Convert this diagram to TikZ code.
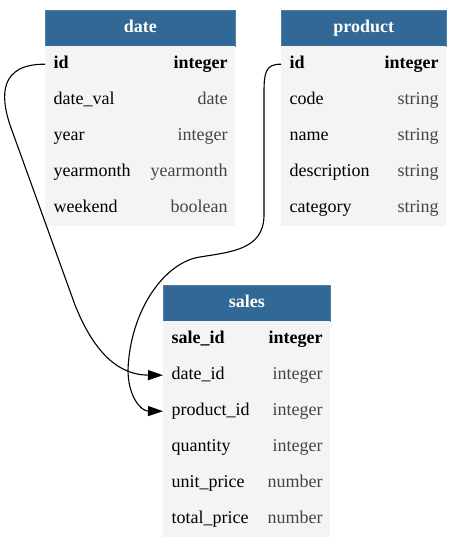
\documentclass[tikz,border=0pt]{standalone}
\usepackage{fontspec}
\newfontfamily\tmsfont{LiberationSerif}[Extension=.ttf, UprightFont=*-Regular, BoldFont=*-Bold]
\usetikzlibrary{arrows.meta}
\definecolor{hdrblue}{HTML}{316895}
\definecolor{rowgray}{HTML}{F4F4F4}
\definecolor{typegray}{HTML}{444444}
\tikzset{
  hdrbox/.style={fill=hdrblue, draw=hdrblue!85!white, line width=0.6pt, text=white, minimum height=36pt, inner sep=0pt, anchor=north west, text height=12pt, text depth=4pt, font=\tmsfont\fontsize{18}{20}\selectfont\bfseries},
  rowbox/.style={fill=rowgray, minimum height=36pt, inner sep=0pt, anchor=north west},
  fname/.style={inner sep=0pt, anchor=west, text height=12pt, text depth=4pt, font=\tmsfont\fontsize{18}{20}\selectfont},
  ftype/.style={inner sep=0pt, anchor=east, text height=12pt, text depth=4pt, font=\tmsfont\fontsize{18}{20}\selectfont, text=typegray},
  keyname/.style={fname, font=\tmsfont\fontsize{18}{20}\selectfont\bfseries},
  keytype/.style={ftype, text=black, font=\tmsfont\fontsize{18}{20}\selectfont\bfseries},
  fk/.style={line width=1.1pt, -{Triangle[length=15pt,width=10pt]}}
}
% #1 name, #2 position, #3 width, #4 field, #5 type, #6 name style, #7 type style
\newcommand\erow[7]{%
  \node[rowbox, minimum width=#3] (#1) at (#2) {};
  \node[#6] (#1-n) at ([xshift=8.5pt]#1.west) {#4};
  \node[#7] (#1-t) at ([xshift=-7.5pt]#1.east) {#5};
}
\begin{document}
\begin{tikzpicture}[x=1pt,y=-1pt]
\useasboundingbox (0,0) rectangle (465,548);
% date table
\node[hdrbox, minimum width=190pt] (date) at (45,10) {date};
\erow{date-id}{45,46}{190pt}{id}{integer}{keyname}{keytype}
\erow{date-dateval}{45,82}{190pt}{date\_val}{date}{fname}{ftype}
\erow{date-year}{45,118}{190pt}{year}{integer}{fname}{ftype}
\erow{date-ym}{45,154}{190pt}{yearmonth}{yearmonth}{fname}{ftype}
\erow{date-we}{45,190}{190pt}{weekend}{boolean}{fname}{ftype}
% product table
\node[hdrbox, minimum width=165pt] (product) at (281,10) {product};
\erow{prod-id}{281,46}{165pt}{id}{integer}{keyname}{keytype}
\erow{prod-code}{281,82}{165pt}{code}{string}{fname}{ftype}
\erow{prod-name}{281,118}{165pt}{name}{string}{fname}{ftype}
\erow{prod-desc}{281,154}{165pt}{description}{string}{fname}{ftype}
\erow{prod-cat}{281,190}{165pt}{category}{string}{fname}{ftype}
% sales table
\node[hdrbox, minimum width=167pt] (sales) at (163,285) {sales};
\erow{sales-id}{163,321}{167pt}{sale\_id}{integer}{keyname}{keytype}
\erow{sales-date}{163,357}{167pt}{date\_id}{integer}{fname}{ftype}
\erow{sales-prod}{163,393}{167pt}{product\_id}{integer}{fname}{ftype}
\erow{sales-qty}{163,429}{167pt}{quantity}{integer}{fname}{ftype}
\erow{sales-up}{163,465}{167pt}{unit\_price}{number}{fname}{ftype}
\erow{sales-tp}{163,501}{167pt}{total\_price}{number}{fname}{ftype}
% relations
\draw[fk] (date-id.west) .. controls (0,64) and (0,95) .. (10,125)
  -- (75,305) .. controls (95,355) and (120,375) .. (sales-date.west);
\draw[fk] (prod-id.west) .. controls (266,64) and (264,72) .. (264,92)
  -- (264,215) .. controls (264,250) and (230,252) .. (200,257)
  .. controls (165,262) and (130,310) .. (128,370)
  .. controls (128,395) and (140,411) .. (sales-prod.west);
\end{tikzpicture}
\end{document}
